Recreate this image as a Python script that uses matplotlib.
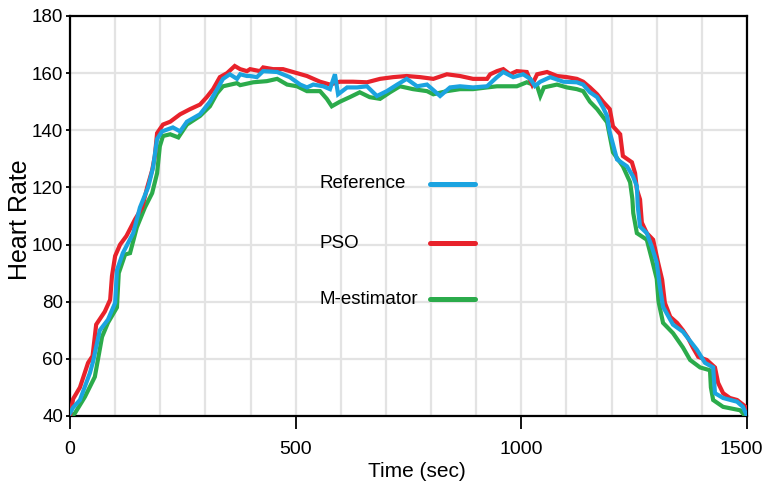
import matplotlib
matplotlib.use("Agg")
import matplotlib.pyplot as plt
from matplotlib.ticker import MultipleLocator
from matplotlib.transforms import ScaledTranslation

plt.rcParams["font.family"] = ["Liberation Sans", "DejaVu Sans"]

# Reference (blue)
t_ref = [0, 7, 22, 44, 51, 66, 84, 100, 104, 117, 140, 155, 173, 184, 193, 204, 228, 244,
         259, 288, 310, 326, 339, 354, 370, 377, 392, 399, 414, 428, 459, 487, 510, 525,
         539, 561, 576, 587, 594, 614, 636, 658, 680, 702, 725, 746, 769, 791, 820, 842,
         864, 893, 924, 946, 960, 982, 1004, 1020, 1030, 1042, 1064, 1093, 1123, 1137,
         1152, 1168, 1181, 1190, 1196, 1212, 1234, 1247, 1256, 1258, 1263, 1278, 1289,
         1300, 1307, 1314, 1336, 1358, 1389, 1407, 1425, 1429, 1447, 1478, 1491, 1500]
v_ref = [41, 43, 45.6, 55, 59, 70, 73.7, 79.6, 91, 97, 104, 113, 120, 127, 137, 139.6, 141,
         139.6, 143, 145.6, 150, 154.4, 158, 159.6, 158, 159.6, 159, 159, 158.6, 160.7,
         160.4, 158.6, 156, 155, 156, 155.4, 154.4, 159.6, 152.6, 155, 155, 155.4, 152,
         153.7, 156, 158, 155.4, 156, 152, 155, 155.4, 155, 155.4, 158.6, 160.4, 158.6,
         159.6, 158, 155.5, 157, 158.6, 157, 156.8, 156, 153.3, 151.6, 148, 145, 139.3,
         129.8, 127.4, 124, 120.4, 113.3, 106.3, 104, 99.3, 93.7, 85.3, 78.2, 72, 69.5,
         63.2, 58.6, 57, 48, 46.3, 45, 43.2, 40]

# PSO (red)
t_pso = [0, 7, 22, 40, 50, 58, 77, 89, 93, 100, 111, 125, 144, 160, 171, 182, 188, 193,
         206, 222, 244, 266, 288, 303, 317, 332, 348, 365, 377, 392, 399, 421, 428, 450,
         472, 494, 525, 554, 576, 598, 627, 658, 687, 716, 746, 776, 805, 835, 864, 893,
         924, 931, 946, 960, 975, 990, 1012, 1024, 1035, 1057, 1079, 1101, 1123, 1137,
         1152, 1168, 1181, 1196, 1203, 1219, 1225, 1245, 1252, 1256, 1263, 1267, 1278,
         1292, 1303, 1312, 1318, 1330, 1345, 1358, 1369, 1380, 1392, 1411, 1429, 1436,
         1447, 1462, 1478, 1491, 1500]
v_pso = [40, 46, 50, 58.6, 61, 72, 76.5, 80.7, 89, 96, 100, 103, 108.8, 113, 120, 126,
         131, 139, 142, 143, 145.6, 147.4, 149, 151.6, 154.4, 158.6, 160, 162.5, 161.4,
         160.7, 161.4, 160.7, 162, 161.4, 161.4, 160.4, 159, 157, 156, 157, 157, 156.8,
         158, 158.6, 159, 158.6, 158, 159.6, 159, 158, 158, 159.6, 160.7, 161.4, 159.6,
         160.7, 160.4, 156, 159.6, 160.4, 159, 158.6, 158, 157, 155, 152.6, 150, 147.4,
         141.4, 138.6, 131, 128.8, 125, 119.3, 115.8, 107.7, 104, 101.7, 93.7, 87.7, 79.6,
         74.7, 72.6, 70, 67.4, 64, 60.7, 59.6, 57, 51.6, 48, 46.3, 45.6, 44, 42.8]

# M-estimator (green)
t_me = [5, 11, 33, 55, 71, 84, 104, 108, 122, 133, 148, 166, 182, 193, 199, 206, 222, 240,
        259, 288, 310, 326, 339, 370, 377, 406, 436, 459, 481, 503, 525, 554, 569, 580,
        598, 620, 642, 664, 687, 709, 731, 760, 791, 805, 835, 864, 893, 924, 946, 960,
        990, 1012, 1035, 1042, 1050, 1079, 1101, 1123, 1137, 1152, 1168, 1190, 1203,
        1225, 1241, 1246, 1248, 1256, 1278, 1289, 1300, 1304, 1314, 1336, 1358, 1374,
        1396, 1418, 1420, 1425, 1447, 1485, 1496, 1500]
v_me = [40, 41, 46.7, 53.7, 67.7, 72.6, 78, 90, 96.5, 97, 106, 113, 118, 125, 134.4, 138,
        138.6, 137.5, 142, 145, 148.4, 153, 155.4, 156.5, 155.8, 156.8, 157.2, 158, 156,
        155.4, 153.7, 153.7, 151, 148.4, 150, 151.6, 153.3, 151.6, 151, 153.3, 155.4,
        154.4, 153.7, 152.6, 153.7, 154.4, 154.4, 155, 155.4, 155.4, 155.4, 156.8, 155.5,
        152, 155, 156, 155, 154.4, 153.7, 150, 147.4, 142.8, 132.3, 127.4, 121.8, 116,
        111, 104, 101.7, 95, 88, 80, 72.6, 69, 64, 59.6, 57, 56, 50, 45.6, 43.2, 42, 40, 39]

labels = ["Reference", "PSO", "M-estimator"]
colors = ["#1ba3e0", "#e8222b", "#2bab4b"]
x_ticks = [0, 500, 1000, 1500]
y_ticks = [40, 60, 80, 100, 120, 140, 160, 180]

fig = plt.figure(figsize=(7.62, 4.92), dpi=100)
ax = fig.add_axes([70 / 762, 76 / 492, 677 / 762, 400 / 492])

ax.plot(t_me, v_me, color=colors[2], lw=3, solid_joinstyle="miter", zorder=3)
ax.plot(t_pso, v_pso, color=colors[1], lw=3, solid_joinstyle="miter", zorder=4)
ax.plot(t_ref, v_ref, color=colors[0], lw=3, solid_joinstyle="miter", zorder=5)

ax.set_xlim(0, 1500)
ax.set_ylim(40, 180)
ax.set_xticks(x_ticks)
ax.set_yticks(y_ticks)
ax.xaxis.set_minor_locator(MultipleLocator(100))
ax.grid(which="both", color="#e3e3e3", lw=1.6, zorder=0)
ax.set_axisbelow(True)
ax.tick_params(axis="x", which="major", length=9, width=1.3, direction="out",
               labelsize=14, pad=9)
ax.tick_params(axis="y", which="major", length=3, width=1.3, direction="out",
               labelsize=13.5, pad=2)
ax.tick_params(which="minor", length=0)
for s in ax.spines.values():
    s.set_color("black")
    s.set_linewidth(1.6)

# last x label sits right at the figure edge, nudge it in a bit
lbl = ax.get_xticklabels()[-1]
lbl.set_transform(lbl.get_transform() + ScaledTranslation(-6 / 100, 0, fig.dpi_scale_trans))

ax.set_xlabel("Time (sec)", fontsize=15)
ax.xaxis.set_label_coords(0.512, -0.115)
ax.set_ylabel("Heart Rate", fontsize=18)
ax.yaxis.set_label_coords(-0.056, 0.49)

# legend drawn as text + line samples, no frame
ys = [0.58, 0.4325, 0.2925]
for lab, c, y in zip(labels, colors, ys):
    ax.text(0.369, y, lab, transform=ax.transAxes, fontsize=13.5, va="center", ha="left")
    ax.plot([0.532, 0.598], [y, y], transform=ax.transAxes, color=c, lw=3.6,
            solid_capstyle="round", zorder=6)

fig.savefig("out.png", dpi=100)
